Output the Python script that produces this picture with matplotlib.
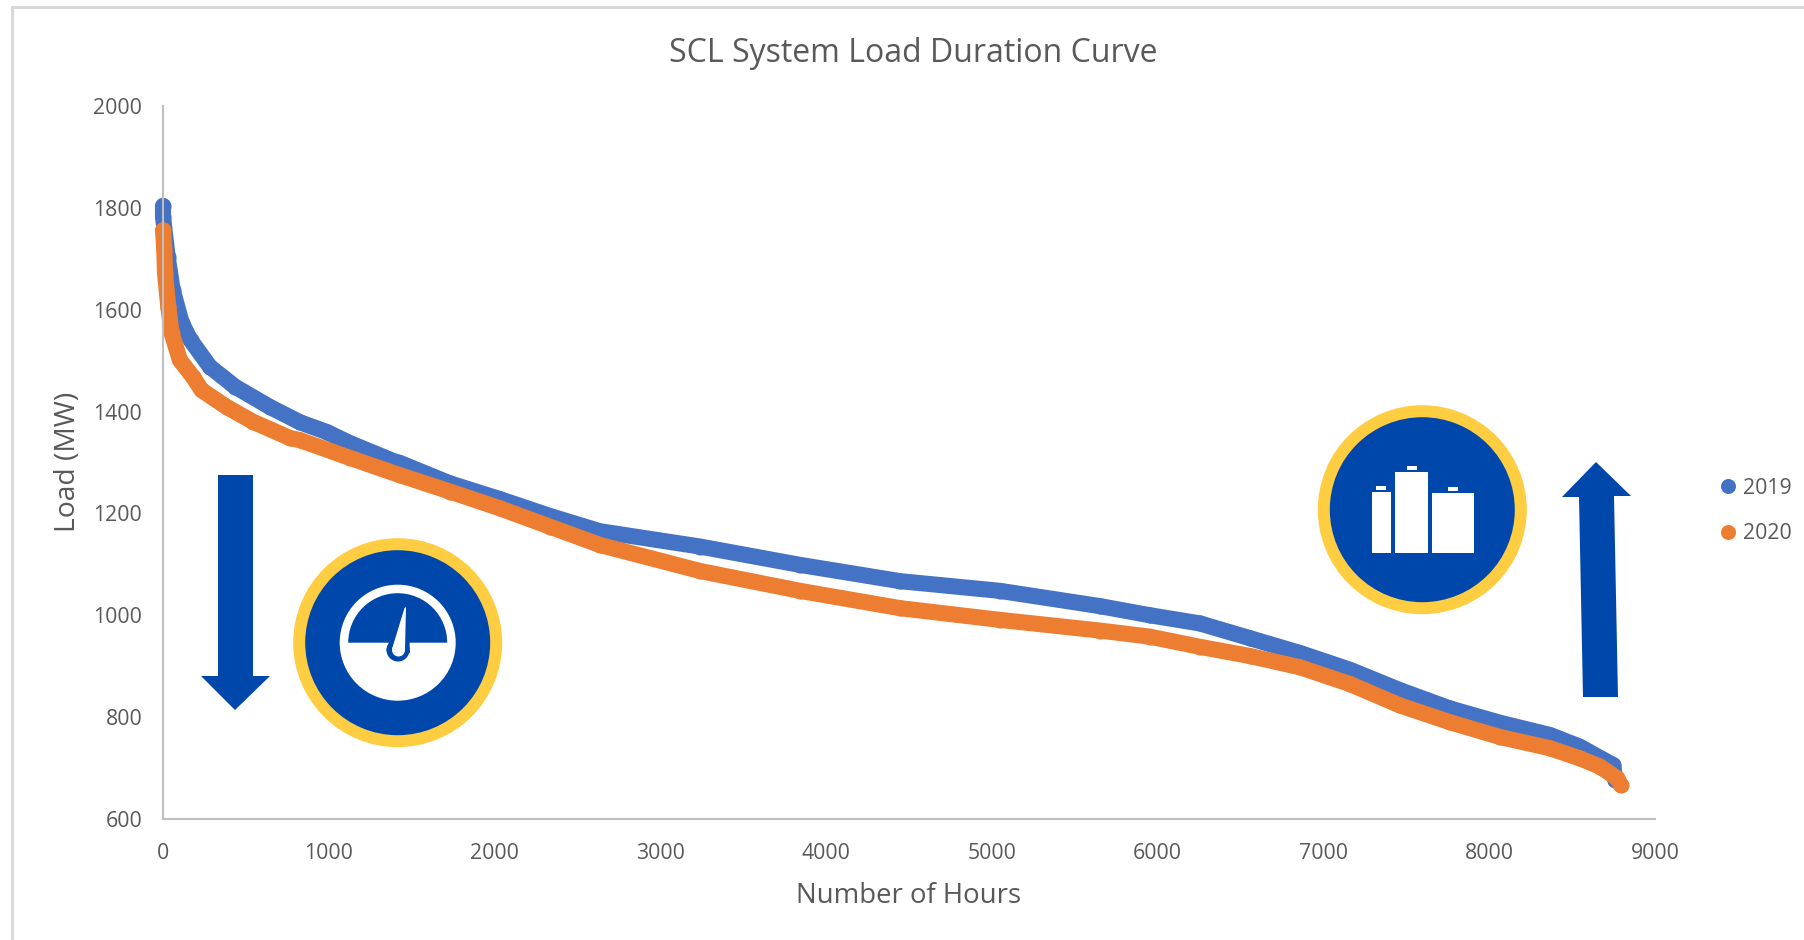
import matplotlib
matplotlib.use("Agg")
import matplotlib.pyplot as plt
from matplotlib.patches import Circle, Polygon, Rectangle, Wedge

plt.rcParams['font.family'] = ['Open Sans', 'DejaVu Sans']

# values
hours_2019 = [0, 0, 28, 58, 113, 167, 283, 434, 645, 826, 987, 1128, 1389, 1430, 1731, 2033, 2334,
              2636, 3239, 3842, 4446, 5048, 5651, 5954, 6255, 6557, 6858, 7160, 7461, 7763, 8065,
              8366, 8547, 8668, 8748, 8760]
load_2019 = [1804, 1783, 1704, 1639, 1574, 1540, 1488, 1449, 1409, 1379, 1360, 1338, 1303, 1299,
             1259, 1228, 1195, 1165, 1135, 1099, 1067, 1048, 1018, 1000, 984, 955, 926, 893, 853,
             817, 789, 765, 742, 720, 706, 677]
hours_2020 = [0, 8, 12, 32, 52, 102, 181, 233, 384, 543, 766, 826, 1128, 1430, 1731, 2033, 2334,
              2636, 3239, 3842, 4446, 5048, 5651, 5954, 6255, 6557, 6858, 7160, 7461, 7763, 8065,
              8366, 8547, 8668, 8771, 8793]
load_2020 = [1756, 1717, 1672, 1606, 1554, 1501, 1468, 1442, 1409, 1380, 1348, 1344, 1309, 1275,
             1243, 1210, 1174, 1138, 1087, 1048, 1014, 991, 970, 958, 938, 920, 898, 865, 823,
             790, 761, 739, 719, 703, 680, 667]

x_ticks = [0, 1000, 2000, 3000, 4000, 5000, 6000, 7000, 8000, 9000]
y_ticks = [600, 800, 1000, 1200, 1400, 1600, 1800, 2000]

BLUE = '#4472C4'
ORANGE = '#ED7D31'
TEXT = '#595959'
AXIS = '#BFBFBF'
NAVY = '#0047AB'
GOLD = '#FFCD41'

W, H = 1804, 940
fig = plt.figure(figsize=(W / 100, H / 100), dpi=100, facecolor='white')

ax = fig.add_axes([163 / W, 1 - 819 / H, (1655 - 163) / W, (819 - 106) / H])
ax.patch.set_alpha(0)
ax.plot(hours_2019, load_2019, color=BLUE, lw=11.6, marker='o', ms=11.6, mew=0,
        solid_capstyle='round', solid_joinstyle='round', label='2019', clip_on=False)
ax.plot(hours_2020, load_2020, color=ORANGE, lw=11.6, marker='o', ms=11.6, mew=0,
        solid_capstyle='round', solid_joinstyle='round', label='2020', clip_on=False)

ax.set_xlim(0, 9000)
ax.set_ylim(600, 2000)
ax.set_xticks(x_ticks)
ax.set_yticks(y_ticks)
ax.tick_params(length=0, labelsize=15.3, labelcolor=TEXT)
ax.tick_params(axis='x', pad=17)
ax.tick_params(axis='y', pad=15)
for s in ['top', 'right']:
    ax.spines[s].set_visible(False)
for s in ['left', 'bottom']:
    ax.spines[s].set_color(AXIS)
    ax.spines[s].set_linewidth(1.5)

fig.text(913 / W, 1 - 53.5 / H, 'SCL System Load Duration Curve', ha='center', va='center',
         fontsize=23, color=TEXT)
fig.text(909 / W, 1 - 896 / H, 'Number of Hours', ha='center', va='center',
         fontsize=19.8, color=TEXT)
fig.text(68 / W, 1 - 462 / H, 'Load (MW)', ha='center', va='center', rotation=90,
         fontsize=20.3, color=TEXT)

# legend sits at the right, no frame
handles = [plt.Line2D([], [], ls='', marker='o', ms=10.8, mew=0, color=c) for c in (BLUE, ORANGE)]
fig.legend(handles, ['2019', '2020'], loc='center left', bbox_to_anchor=(1717 / W, 1 - 511 / H),
           frameon=False, fontsize=15.3, labelcolor=TEXT, handlelength=1.0, handletextpad=0.2,
           labelspacing=1.14, borderpad=0, borderaxespad=0)

# overlay in pixel coordinates for the border, arrows and icons
ov = fig.add_axes([0, 0, 1, 1], zorder=5)
ov.set_xlim(0, W)
ov.set_ylim(H, 0)
ov.axis('off')

ov.plot([11.5, 11.5, W], [H, 6.5, 6.5], color='#D9D9D9', lw=2.2, solid_joinstyle='miter')

# down arrow
ov.add_patch(Polygon([(218, 475), (253, 475), (253, 676), (270, 676), (235, 710),
                      (201, 676), (218, 676)], fc=NAVY, ec='none'))
# up arrow
ov.add_patch(Polygon([(1596, 462), (1631, 496), (1614, 496), (1618, 697), (1583, 697),
                      (1579, 497), (1562, 497)], fc=NAVY, ec='none'))


def badge(cx, cy):
    ov.add_patch(Circle((cx, cy), 104.5, fc=GOLD, ec='none'))
    ov.add_patch(Circle((cx, cy), 92.5, fc=NAVY, ec='none'))


# gauge icon
gx, gy = 397.7, 642.7
badge(gx, gy)
ov.add_patch(Circle((gx, gy), 58, fc='white', ec='none'))
ov.add_patch(Wedge((gx, gy), 49.5, 180, 360, fc=NAVY, ec='none'))
ov.add_patch(Circle((398, 650), 11.5, fc=NAVY, ec='none'))
ov.add_patch(Polygon([(403.5, 610), (406, 607), (407, 650), (390, 648)], fc=NAVY, ec=NAVY, lw=4))
ov.add_patch(Circle((398.5, 650), 6.5, fc='white', ec='none'))
ov.add_patch(Polygon([(404.5, 608), (406, 607), (405, 650), (392, 649)], fc='white', ec='none'))

# battery icon
badge(1422.3, 509.7)
for x0, x1, y0 in [(1371.5, 1391.3, 491.7), (1395.3, 1428.3, 471.7), (1432.3, 1473.7, 492.7)]:
    ov.add_patch(Rectangle((x0, y0), x1 - x0, 553.3 - y0, fc='white', ec='none'))
for x0, x1, y0, y1 in [(1376.3, 1386.3, 486, 490), (1406.7, 1417, 466, 470), (1447.7, 1458, 487, 491)]:
    ov.add_patch(Rectangle((x0, y0), x1 - x0, y1 - y0, fc='white', ec='none'))

fig.savefig('out.png', dpi=100)
